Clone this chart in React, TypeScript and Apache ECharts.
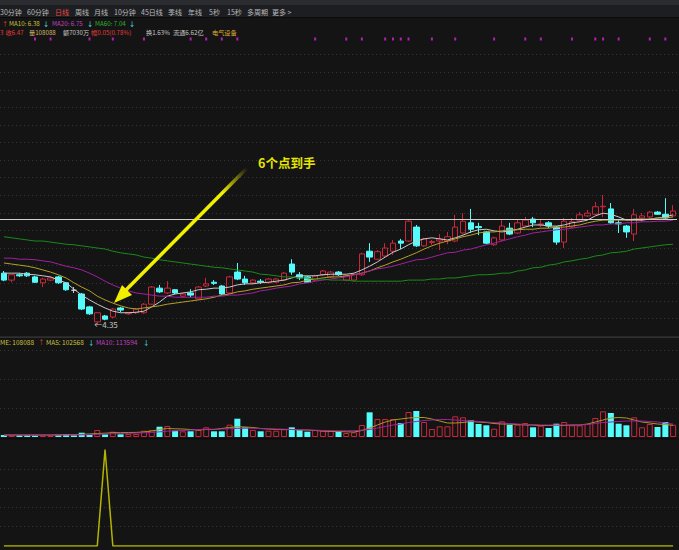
import React, { useEffect, useRef } from "react";
import * as echarts from "echarts";

const FONT = '"Noto Sans CJK SC", "Noto Sans", sans-serif';
const RED = "#c8283c";
const CYAN = "#54fcfc";
const BG = "#141414";

// ---------- data ----------
const categories = Array.from({ length: 87 }, (_, i) => `D${i + 1}`);

// [open, close, low, high]
const ohlc = [
  [5.31, 5.18, 5.16, 5.35], [5.18, 5.28, 5.14, 5.29], [5.28, 5.26, 5.24, 5.31], [5.31, 5.26, 5.24, 5.33], [5.24, 5.14, 5.13, 5.26],
  [5.13, 5.2, 5.05, 5.22], [5.18, 5.22, 5.16, 5.24], [5.24, 5.13, 5.11, 5.26], [5.13, 5.0, 4.98, 5.14], [4.99, 4.99, 4.94, 5.05],
  [4.92, 4.64, 4.62, 4.94], [4.68, 4.55, 4.53, 4.7], [4.4, 4.57, 4.35, 4.58], [4.51, 4.45, 4.43, 4.53], [4.49, 4.64, 4.47, 4.66],
  [4.66, 4.62, 4.58, 4.68], [4.55, 4.57, 4.53, 4.58], [4.57, 4.64, 4.55, 4.66], [4.57, 4.73, 4.55, 4.75], [4.73, 5.05, 4.72, 5.07],
  [5.03, 4.96, 4.94, 5.09], [4.94, 5.03, 4.92, 5.16], [5.0, 4.94, 4.92, 5.01], [4.88, 4.92, 4.85, 4.94], [4.94, 4.9, 4.86, 5.01],
  [4.83, 5.05, 4.81, 5.07], [5.07, 5.11, 5.05, 5.22], [5.14, 5.12, 5.09, 5.18], [5.07, 4.92, 4.9, 5.09], [4.94, 5.24, 4.92, 5.26],
  [5.33, 5.2, 5.18, 5.5], [5.2, 5.13, 5.09, 5.26], [5.13, 5.18, 5.11, 5.2], [5.16, 5.14, 5.11, 5.2], [5.13, 5.2, 5.11, 5.22],
  [5.14, 5.2, 5.13, 5.22], [5.18, 5.31, 5.16, 5.33], [5.48, 5.33, 5.28, 5.57], [5.28, 5.22, 5.18, 5.33], [5.24, 5.14, 5.13, 5.26],
  [5.18, 5.26, 5.16, 5.28], [5.28, 5.35, 5.26, 5.37], [5.24, 5.33, 5.22, 5.35], [5.33, 5.28, 5.26, 5.35], [5.18, 5.26, 5.16, 5.28],
  [5.18, 5.29, 5.16, 5.31], [5.28, 5.67, 5.26, 5.69], [5.72, 5.61, 5.52, 5.87], [5.57, 5.71, 5.56, 5.74], [5.63, 5.78, 5.61, 5.87],
  [5.72, 5.87, 5.65, 5.93], [5.91, 5.87, 5.76, 5.95], [5.91, 6.28, 5.89, 6.3], [6.17, 5.82, 5.8, 6.21], [5.82, 5.95, 5.8, 5.97],
  [5.88, 5.9, 5.84, 5.93], [5.91, 5.95, 5.74, 6.04], [5.91, 5.99, 5.85, 6.08], [5.91, 6.17, 5.89, 6.4], [6.06, 6.28, 6.04, 6.43],
  [6.25, 6.13, 6.06, 6.51], [6.18, 6.16, 6.02, 6.25], [6.08, 5.87, 5.85, 6.1], [5.84, 5.97, 5.82, 5.99], [5.93, 6.19, 5.91, 6.3],
  [6.15, 6.04, 6.02, 6.25], [6.06, 6.25, 6.04, 6.32], [6.19, 6.3, 6.17, 6.36], [6.32, 6.25, 6.17, 6.36], [6.21, 6.23, 6.17, 6.32],
  [6.25, 6.19, 6.15, 6.28], [6.17, 5.89, 5.84, 6.19], [5.89, 6.28, 5.78, 6.34], [6.17, 6.27, 6.15, 6.34], [6.3, 6.4, 6.28, 6.45],
  [6.38, 6.43, 6.36, 6.49], [6.41, 6.55, 6.4, 6.64], [6.55, 6.56, 6.36, 6.77], [6.51, 6.25, 6.23, 6.62], [6.25, 6.23, 6.06, 6.3],
  [6.19, 6.08, 5.97, 6.21], [6.04, 6.4, 5.91, 6.51], [6.34, 6.38, 6.27, 6.43], [6.36, 6.45, 6.34, 6.47], [6.45, 6.41, 6.4, 6.47],
  [6.41, 6.34, 6.32, 6.71], [6.38, 6.47, 6.36, 6.58],
];

const ma5 = [
  5.31, 5.31, 5.31, 5.29, 5.28, 5.26, 5.24, 5.18, 5.13, 5.01,
  4.9, 4.81, 4.73, 4.66, 4.6, 4.57, 4.57, 4.58, 4.6, 4.68,
  4.77, 4.88, 4.92, 4.94, 4.96, 5.0, 5.01, 5.03, 5.03, 5.05,
  5.09, 5.11, 5.11, 5.13, 5.14, 5.16, 5.18, 5.22, 5.26, 5.26,
  5.26, 5.28, 5.29, 5.29, 5.29, 5.31, 5.37, 5.44, 5.52, 5.61,
  5.7, 5.76, 5.84, 5.91, 5.95, 5.97, 5.95, 5.93, 5.97, 6.02,
  6.08, 6.12, 6.13, 6.1, 6.08, 6.1, 6.13, 6.17, 6.21, 6.21,
  6.19, 6.19, 6.21, 6.25, 6.27, 6.3, 6.38, 6.43, 6.41, 6.36,
  6.3, 6.3, 6.3, 6.32, 6.34, 6.36, 6.4,
];
const ma10 = [
  5.5, 5.48, 5.46, 5.44, 5.41, 5.37, 5.33, 5.28, 5.22, 5.13,
  5.05, 4.98, 4.88, 4.81, 4.75, 4.7, 4.66, 4.64, 4.66, 4.68,
  4.7, 4.73, 4.75, 4.77, 4.79, 4.81, 4.83, 4.86, 4.9, 4.92,
  4.96, 4.98, 5.01, 5.03, 5.05, 5.07, 5.09, 5.13, 5.14, 5.18,
  5.2, 5.22, 5.24, 5.24, 5.26, 5.28, 5.31, 5.35, 5.41, 5.46,
  5.52, 5.57, 5.63, 5.69, 5.76, 5.82, 5.87, 5.91, 5.95, 5.99,
  6.02, 6.06, 6.08, 6.08, 6.1, 6.12, 6.12, 6.13, 6.13, 6.15,
  6.15, 6.17, 6.17, 6.19, 6.21, 6.25, 6.28, 6.3, 6.3, 6.3,
  6.3, 6.32, 6.32, 6.32, 6.34, 6.34, 6.36,
];
const ma20 = [
  5.59, 5.59, 5.57, 5.57, 5.56, 5.54, 5.52, 5.48, 5.44, 5.41,
  5.37, 5.31, 5.24, 5.16, 5.09, 5.03, 4.98, 4.94, 4.92, 4.9,
  4.88, 4.88, 4.86, 4.86, 4.86, 4.86, 4.86, 4.88, 4.88, 4.9,
  4.9, 4.92, 4.94, 4.98, 5.0, 5.03, 5.05, 5.07, 5.11, 5.13,
  5.16, 5.18, 5.2, 5.22, 5.24, 5.28, 5.31, 5.35, 5.39, 5.41,
  5.44, 5.48, 5.52, 5.56, 5.57, 5.61, 5.65, 5.69, 5.7, 5.74,
  5.76, 5.8, 5.84, 5.87, 5.91, 5.95, 5.99, 6.02, 6.06, 6.08,
  6.1, 6.12, 6.13, 6.15, 6.17, 6.19, 6.21, 6.21, 6.23, 6.23,
  6.25, 6.25, 6.27, 6.27, 6.28, 6.28, 6.3,
];
const ma60 = [
  5.99, 5.97, 5.95, 5.93, 5.91, 5.91, 5.89, 5.87, 5.85, 5.84,
  5.82, 5.8, 5.78, 5.76, 5.72, 5.69, 5.67, 5.65, 5.61, 5.59,
  5.56, 5.54, 5.52, 5.5, 5.48, 5.46, 5.44, 5.42, 5.41, 5.39,
  5.37, 5.35, 5.33, 5.29, 5.28, 5.26, 5.24, 5.24, 5.22, 5.22,
  5.2, 5.2, 5.18, 5.18, 5.18, 5.16, 5.16, 5.16, 5.16, 5.16,
  5.16, 5.16, 5.18, 5.18, 5.18, 5.2, 5.2, 5.22, 5.22, 5.24,
  5.26, 5.28, 5.28, 5.29, 5.31, 5.31, 5.35, 5.37, 5.41, 5.42,
  5.46, 5.48, 5.52, 5.54, 5.57, 5.59, 5.63, 5.65, 5.69, 5.7,
  5.72, 5.76, 5.78, 5.8, 5.82, 5.84, 5.85,
];

const volumes = [
  17600, 17600, 17600, 17600, 14900, 14900, 17600, 17600, 23700, 14900,
  37800, 17600, 61500, 23700, 46600, 23700, 26400, 26400, 55400, 61500,
  90500, 96700, 55400, 50100, 50100, 61500, 85200, 50100, 50100, 108100,
  160800, 85200, 61500, 50100, 55400, 55400, 67700, 85200, 61500, 46600,
  61500, 55400, 55400, 50100, 35200, 41300, 105500, 217100, 158200, 158200,
  158200, 123000, 219700, 228500, 131800, 70300, 94000, 94000, 181900, 173100,
  146800, 114200, 102800, 72900, 138000, 108100, 108100, 123000, 85200, 99300,
  79100, 116900, 131800, 102800, 102800, 114200, 167000, 225900, 210900, 116900,
  102800, 173100, 85200, 114200, 87900, 131800, 108088,
];
const volMa5 = [
  17600, 17600, 17600, 17600, 17600, 17600, 17600, 19300, 20200, 20200,
  23700, 26400, 30800, 33400, 37800, 37800, 39500, 40400, 43900, 52700,
  65900, 74700, 72100, 70300, 65900, 61500, 65900, 65900, 74700, 83500,
  90500, 87900, 83500, 74700, 70300, 65900, 65900, 65900, 61500, 61500,
  57100, 52700, 48300, 48300, 45700, 43900, 57100, 79100, 105500, 131800,
  149400, 158200, 167000, 171400, 171400, 158200, 140600, 123000, 123000, 127400,
  136200, 131800, 127400, 118600, 114200, 114200, 109900, 105500, 105500, 101100,
  101100, 101100, 101100, 105500, 105500, 114200, 131800, 149400, 167000, 171400,
  167000, 149400, 131800, 123000, 114200, 109900, 102568,
];
const volMa10 = [
  15800, 15800, 15800, 15800, 15800, 15800, 15800, 15800, 17600, 17600,
  19300, 21100, 23700, 26400, 28100, 30800, 32500, 34300, 36900, 40400,
  45700, 51000, 54500, 57100, 61500, 65900, 68500, 68500, 70300, 72900,
  75600, 77300, 76500, 73800, 72100, 70300, 68500, 65900, 63300, 61500,
  59800, 57100, 55400, 54500, 54500, 55400, 59800, 65900, 79100, 92300,
  105500, 114200, 127400, 136200, 145000, 149400, 153800, 153800, 149400, 145000,
  140600, 136200, 131800, 127400, 123000, 118600, 114200, 109900, 109900, 105500,
  105500, 105500, 105500, 105500, 105500, 109900, 118600, 127400, 131800, 136200,
  140600, 140600, 140600, 136200, 131800, 123000, 113594,
];

const signal = [
  0, 0, 0, 0, 0, 0, 0, 0, 0, 0,
  0, 0, 0, 1, 0, 0, 0, 0, 0, 0,
  0, 0, 0, 0, 0, 0, 0, 0, 0, 0,
  0, 0, 0, 0, 0, 0, 0, 0, 0, 0,
  0, 0, 0, 0, 0, 0, 0, 0, 0, 0,
  0, 0, 0, 0, 0, 0, 0, 0, 0, 0,
  0, 0, 0, 0, 0, 0, 0, 0, 0, 0,
  0, 0, 0, 0, 0, 0, 0, 0, 0, 0,
  0, 0, 0, 0, 0, 0, 0,
];

const eventMarks = [4, 6, 11, 14, 18, 24, 26, 28, 30, 40, 44, 46, 49, 50, 51, 52, 55, 58, 63, 67, 69, 73, 76, 77, 79, 83, 85];

const refLinePrice = 6.32;
const lowIndex = 12;
const lowPrice = 4.35;

const menuItems = ["30分钟", "60分钟", "日线", "周线", "月线", "10分钟", "45日线", "季线", "年线", "5秒", "15秒", "多周期", "更多 >"];
const activeMenu = "日线";
const maHeader = ["↑", "MA10: 6.38", "↓", "MA20: 6.75", "↓", "MA60: 7.04", "↓"];
const quoteHeader = ["3", "收6.47", "量108088", "额7030万", "幅0.05(0.78%)", "换1.63%", "流通6.62亿", "电气设备"];
const volHeader = ["ME: 108088", "↑", "MA5: 102568", "↓", "MA10: 113594", "↓"];
const annotationText = "6个点到手";

// ---------- option ----------
const DOT = { color: "#343434", type: [1, 3] as any, width: 1 };

let measureCtx: CanvasRenderingContext2D | null = null;
function measure(text: string, size: number) {
  if (!measureCtx) measureCtx = document.createElement("canvas").getContext("2d");
  if (!measureCtx) return text.length * size * 0.6;
  measureCtx.font = `${size}px ${FONT}`;
  return measureCtx.measureText(text).width;
}

function txt(text: string, x: number, y: number, fill: string, size = 7, weight: any = "normal") {
  return {
    type: "text",
    x,
    y,
    silent: true,
    z: 100,
    style: {
      text,
      fill,
      fontSize: size,
      fontWeight: weight,
      fontFamily: FONT,
      lineHeight: Math.ceil(size) + 0.5,
      align: "left",
      verticalAlign: "middle",
    },
  };
}

// places texts at their preferred x, pushing right when the previous one would overlap
function row(texts: string[], xs: number[], colors: string[], y: number, size: number, gap = 1) {
  const out: any[] = [];
  let end = -Infinity;
  texts.forEach((t, i) => {
    const x = Math.max(xs[i], end + gap);
    out.push(txt(t, x, y, colors[i], size));
    end = x + measure(t, size);
  });
  return out;
}

function buildOption() {
  const graphics: any[] = [
    { type: "rect", shape: { x: 0, y: 0, width: 679, height: 5 }, style: { fill: "#2a2c30" }, silent: true, z: 90 },
    { type: "rect", shape: { x: 0, y: 5, width: 679, height: 12 }, style: { fill: "#1d1e21" }, silent: true, z: 90 },
    { type: "rect", shape: { x: 0, y: 17, width: 679, height: 1 }, style: { fill: "#0b0b0b" }, silent: true, z: 90 },
    { type: "rect", shape: { x: 0, y: 336.5, width: 679, height: 1.2 }, style: { fill: "#3a3a3a" }, silent: true, z: 90 },
    { type: "rect", shape: { x: 0, y: 438, width: 679, height: 1.5 }, style: { fill: "#0c0c0c" }, silent: true, z: 90 },
  ];
  graphics.push(
    ...row(
      menuItems,
      [0, 27, 55, 75, 94, 114, 141, 168, 188, 209, 227, 247, 272],
      menuItems.map((m) => (m === activeMenu ? "#e84444" : "#b8b8b8")),
      11.5,
      7,
      2
    )
  );
  graphics.push(
    ...row(maHeader, [2, 9, 43, 52, 87, 95, 129], ["#e03c3c", "#c8c040", CYAN, "#c040c0", CYAN, "#30b030", CYAN], 23, 6.2, 0.5)
  );
  graphics.push(
    ...row(
      quoteHeader,
      [0, 5, 29, 63, 88, 146, 173, 212],
      ["#e03c3c", "#e03c3c", "#d2b468", "#c8c8c8", "#e03c3c", "#c8c8c8", "#c8c8c8", "#e0b030"],
      32.5,
      6.2,
      2
    )
  );
  graphics.push(
    ...row(volHeader, [0, 38, 46, 88, 96, 143], ["#c8c040", "#e03c3c", "#c8c040", CYAN, "#c040c0", CYAN], 341.5, 6.5, 1)
  );
  // annotation arrow
  graphics.push({
    type: "line",
    silent: true,
    z: 110,
    shape: { x1: 247, y1: 168, x2: 125, y2: 291 },
    style: {
      lineWidth: 3.5,
      stroke: new echarts.graphic.LinearGradient(1, 0, 0, 1, [
        { offset: 0, color: "rgba(240,240,0,0)" },
        { offset: 0.2, color: "rgba(240,240,0,1)" },
        { offset: 1, color: "rgba(240,240,0,1)" },
      ]),
    },
  });
  graphics.push({
    type: "polygon",
    silent: true,
    z: 110,
    shape: { points: [[114, 303], [132, 295], [122, 285]] },
    style: { fill: "#f0f000" },
  });
  graphics.push(txt(annotationText, 258, 162, "#e6e600", 12.5, "bold"));

  const volData = volumes.map((v, i) => {
    const up = ohlc[i][1] > ohlc[i][0];
    return {
      value: v,
      itemStyle: up
        ? { color: "rgba(0,0,0,0)", borderColor: RED, borderWidth: 1 }
        : { color: CYAN, borderColor: CYAN, borderWidth: 0 },
    };
  });

  const hiddenAxis = { axisLine: { show: false }, axisTick: { show: false }, axisLabel: { show: false } };
  const line = (data: number[], color: string, x: number, y: number, w = 1) => ({
    type: "line",
    data,
    xAxisIndex: x,
    yAxisIndex: y,
    showSymbol: false,
    symbol: "none",
    silent: true,
    z: 3,
    lineStyle: { color, width: w },
  });

  return {
    animation: false,
    backgroundColor: BG,
    textStyle: { fontFamily: FONT },
    grid: [
      { left: 0, right: 2, top: 37, height: 299 },
      { left: 0, right: 2, top: 350, height: 87 },
      { left: 0, right: 2, top: 449.5, height: 96.5 },
      { left: 0, right: 2, top: 37, height: 4 },
    ],
    xAxis: [0, 1, 2, 3].map((g) => ({
      type: "category",
      gridIndex: g,
      data: categories,
      boundaryGap: true,
      show: false,
    })),
    yAxis: [
      { type: "value", gridIndex: 0, min: 4.136, max: 9.721, show: false },
      {
        type: "value", gridIndex: 0, min: 0, max: 17, interval: 1, position: "right", ...hiddenAxis,
        splitLine: { show: true, showMinLine: false, showMaxLine: false, lineStyle: DOT },
      },
      {
        type: "value", gridIndex: 1, min: 0, max: 765000, interval: 255000, ...hiddenAxis,
        splitLine: { show: true, showMinLine: false, lineStyle: DOT },
      },
      {
        type: "value", gridIndex: 2, min: 0, max: 1, interval: 0.2, ...hiddenAxis,
        splitLine: { show: true, showMinLine: false, showMaxLine: false, lineStyle: DOT },
      },
      { type: "value", gridIndex: 3, min: 0, max: 1, show: false },
    ],
    series: [
      {
        type: "candlestick",
        xAxisIndex: 0,
        yAxisIndex: 0,
        data: ohlc,
        barWidth: 6,
        silent: true,
        z: 2,
        itemStyle: {
          color: "rgba(0,0,0,0)",
          color0: CYAN,
          borderColor: RED,
          borderColor0: CYAN,
          borderColorDoji: "#cfcfcf",
          borderWidth: 1,
        },
        markLine: {
          silent: true,
          symbol: ["none", "none"],
          label: { show: false },
          lineStyle: { color: "#cfcfcf", width: 1, type: "solid" },
          data: [{ yAxis: refLinePrice }],
        },
        markPoint: {
          silent: true,
          data: [
            {
              coord: [lowIndex, lowPrice],
              value: lowPrice,
              symbol: "circle",
              symbolSize: 0,
              label: {
                show: true,
                position: "right",
                distance: 0,
                offset: [-3, 0],
                formatter: () => "←" + lowPrice.toFixed(2),
                color: "#c4c4c4",
                fontSize: 8,
                fontFamily: FONT,
              },
            },
          ],
        },
      },
      line(ma5, "#c8c8c8", 0, 0),
      line(ma10, "#b4a028", 0, 0),
      line(ma20, "#a020a0", 0, 0),
      line(ma60, "#1a8a1a", 0, 0),
      {
        type: "bar",
        xAxisIndex: 1,
        yAxisIndex: 2,
        data: volData,
        barWidth: 6,
        silent: true,
        z: 2,
      },
      line(volMa5, "#a89a20", 1, 2),
      line(volMa10, "#a020a0", 1, 2),
      line(signal, "#b4b400", 2, 3, 1.5),
      {
        type: "scatter",
        xAxisIndex: 3,
        yAxisIndex: 4,
        data: eventMarks.map((i) => [i, 0.5]),
        symbol: "rect",
        symbolSize: [2, 3],
        silent: true,
        itemStyle: { color: "#e020e0" },
      },
    ],
    graphic: graphics,
  };
}

export default function App() {
  const ref = useRef<HTMLDivElement>(null);
  useEffect(() => {
    if (!ref.current) return;
    const chart = echarts.init(ref.current, null, { renderer: "svg" });
    chart.setOption(buildOption() as any);
    return () => chart.dispose();
  }, []);
  return (
    <div
      ref={ref}
      style={{ position: "absolute", left: 0, top: 0, width: 679, height: 550, background: BG }}
    />
  );
}
